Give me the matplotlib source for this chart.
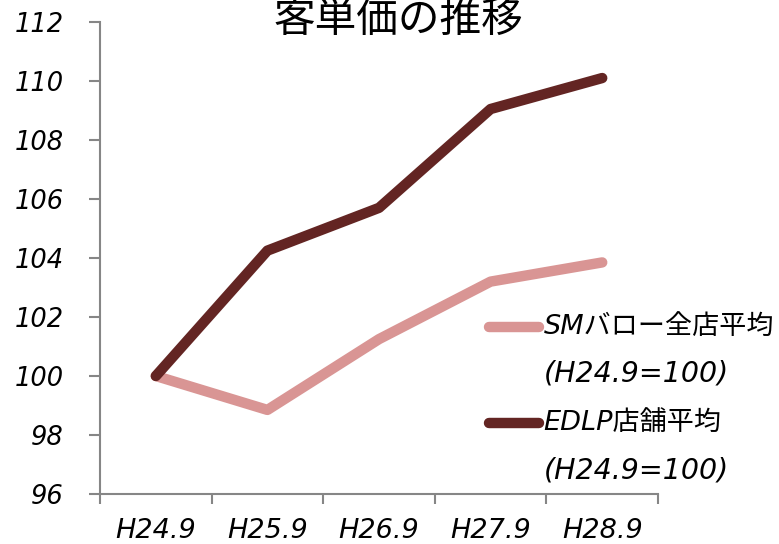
import matplotlib
matplotlib.use("Agg")
import matplotlib.pyplot as plt
from matplotlib.lines import Line2D

plt.rcParams['font.family'] = ['DejaVu Sans', 'Noto Sans CJK JP']

# 客単価 index (H24.9 = 100)
periods = ["H24.9", "H25.9", "H26.9", "H27.9", "H28.9"]
sm_barow = [100.0, 98.85, 101.25, 103.2, 103.85]
edlp = [100.0, 104.25, 105.7, 109.05, 110.1]

series_names = ["SMバロー全店平均\n(H24.9=100)", "EDLP店舗平均\n(H24.9=100)"]
colors = ["#D99594", "#632523"]
axis_gray = "#868686"

fig = plt.figure(figsize=(7.79, 5.44), dpi=100)
ax = fig.add_axes([0.1284, 0.0919, 0.7163, 0.8677])

x = list(range(len(periods)))
line_kw = dict(lw=7.5, solid_capstyle="round", solid_joinstyle="round")
ax.plot(x, sm_barow, color=colors[0], **line_kw)
ax.plot(x, edlp, color=colors[1], **line_kw)

ax.set_xlim(-0.5, len(periods) - 0.5)
ax.set_ylim(96, 112)
ax.set_yticks(range(96, 113, 2))

# category labels centred, tick marks on the category boundaries
ax.set_xticks(x)
ax.set_xticklabels(periods)
ax.set_xticks([i - 0.5 for i in range(len(periods) + 1)], minor=True)
ax.tick_params(axis="x", which="major", length=0, pad=17)
ax.tick_params(axis="x", which="minor", length=7, width=1.5, color=axis_gray, direction="out")
ax.tick_params(axis="y", length=8, width=1.5, color=axis_gray, direction="out", pad=18)

for lbl in ax.get_xticklabels():
    lbl.set_fontsize(19.5)
    lbl.set_fontstyle("italic")
for lbl in ax.get_yticklabels():
    lbl.set_fontsize(18.5)
    lbl.set_fontstyle("italic")

for side in ("top", "right"):
    ax.spines[side].set_visible(False)
for side in ("left", "bottom"):
    ax.spines[side].set_color(axis_gray)
    ax.spines[side].set_linewidth(1.5)

fig.text(0.511, 0.962, "客単価の推移", ha="center", va="center", fontsize=30,
         family=["Noto Sans CJK JP"])

# legend drawn beside the lines
legend_rows = [0.399, 0.222]
for name, col, y in zip(series_names, colors, legend_rows):
    fig.add_artist(Line2D([0.628, 0.692], [y, y], transform=fig.transFigure,
                          color=col, **line_kw))
    first, second = name.split("\n")
    fig.text(0.698, y, first, ha="left", va="center", fontsize=19.5, style="italic")
    fig.text(0.698, y - 0.086, second, ha="left", va="center", fontsize=20.5, style="italic")

fig.savefig("out.png", dpi=100, facecolor="white")
